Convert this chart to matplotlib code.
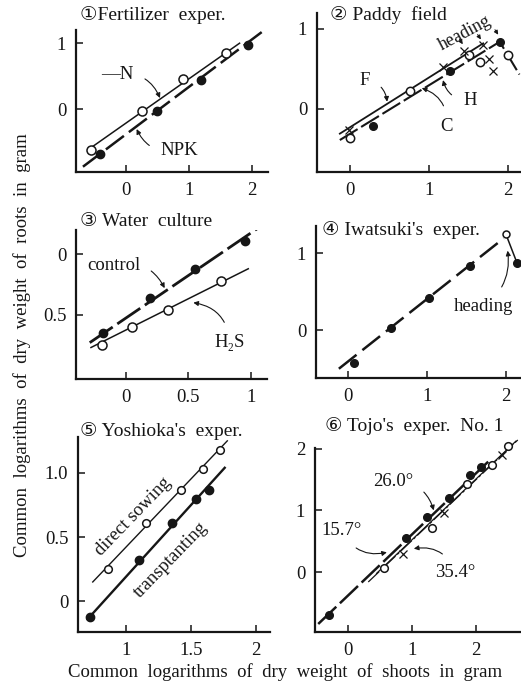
import numpy as np
import matplotlib
matplotlib.use('Agg')
import matplotlib.pyplot as plt

# figure size in pixels
W, H = 521, 687

# (1) Fertilizer exper.
p1_n_x = [-0.56, 0.26, 0.90, 1.59]
p1_n_y = [-0.62, -0.03, 0.46, 0.85]
p1_npk_x = [-0.41, 0.49, 1.19, 1.94]
p1_npk_y = [-0.67, -0.02, 0.44, 0.98]
p1_n_line = ([-0.52, 1.80], [-0.56, 1.00])
p1_npk_line = ([-0.68, 2.25], [-0.87, 1.24])

# (2) Paddy field
p2_open_x = [0.0, 0.76, 1.51, 1.65, 2.0]
p2_open_y = [-0.37, 0.22, 0.68, 0.59, 0.67]
p2_fill_x = [0.29, 1.27, 1.90]
p2_fill_y = [-0.21, 0.47, 0.84]
p2_cross_x = [-0.01, 1.18, 1.44, 1.69, 1.76, 1.82]
p2_cross_y = [-0.27, 0.53, 0.73, 0.80, 0.62, 0.47]
p2_f_line = ([-0.13, 1.69], [-0.31, 0.82])
p2_c_line = ([-0.13, 1.90, 2.15], [-0.39, 0.84, 0.43])

# (3) Water culture
p3_ctrl_x = [-0.18, 0.19, 0.55, 0.95]
p3_ctrl_y = [-0.65, -0.36, -0.12, 0.11]
p3_h2s_x = [-0.19, 0.05, 0.34, 0.76]
p3_h2s_y = [-0.75, -0.60, -0.46, -0.22]
p3_ctrl_line = ([-0.29, 1.05], [-0.73, 0.21])
p3_h2s_line = ([-0.28, 0.98], [-0.77, -0.12])

# (4) Iwatsuki's exper.
p4_x = [0.07, 0.54, 1.02, 1.54]
p4_y = [-0.42, 0.03, 0.42, 0.83]
p4_head_x = [2.0, 2.14]
p4_head_y = [1.24, 0.87]
p4_line = ([-0.12, 1.97], [-0.50, 1.19])

# (5) Yoshioka's exper.
p5_direct_x = [0.86, 1.155, 1.425, 1.59, 1.72]
p5_direct_y = [0.25, 0.61, 0.87, 1.03, 1.18]
p5_trans_x = [0.716, 1.095, 1.356, 1.536, 1.64]
p5_trans_y = [-0.12, 0.32, 0.61, 0.80, 0.87]
p5_direct_line = ([0.74, 1.78], [0.15, 1.25])
p5_trans_line = ([0.70, 1.76], [-0.14, 1.04])

# (6) Tojo's exper. No. 1
p6_fill_x = [-0.29, 0.91, 1.24, 1.58, 1.91, 2.08]
p6_fill_y = [-0.69, 0.56, 0.89, 1.20, 1.58, 1.71]
p6_open_x = [0.56, 1.32, 1.86, 2.25, 2.50]
p6_open_y = [0.07, 0.72, 1.43, 1.73, 2.05]
p6_cross_x = [0.86, 1.50, 2.40]
p6_cross_y = [0.29, 0.96, 1.89]
p6_line_157 = ([-0.46, 2.20], [-0.84, 1.80])
p6_line_260 = ([0.45, 2.62], [-0.02, 2.12])
p6_line_354 = ([0.32, 2.65], [-0.16, 2.14])

plt.rcParams['font.family'] = ['Liberation Serif', 'DejaVu Sans']
plt.rcParams['font.size'] = 12
INK = '#161616'


def add_panel(fig, box, xlim, ylim, xticks, yticks, xlabels=None, ylabels=None):
    l, r, t, b = box
    ax = fig.add_axes([l / W, 1 - b / H, (r - l) / W, (b - t) / H])
    ax.patch.set_alpha(0)
    for s in ['top', 'right']:
        ax.spines[s].set_visible(False)
    for s in ['left', 'bottom']:
        ax.spines[s].set_linewidth(1.6)
        ax.spines[s].set_color(INK)
    ax.set_xlim(xlim)
    ax.set_ylim(ylim)
    ax.set_xticks(xticks)
    ax.set_yticks(yticks)
    if xlabels:
        ax.set_xticklabels(xlabels)
    if ylabels:
        ax.set_yticklabels(ylabels)
    ax.tick_params(direction='in', length=5, width=1.1, labelsize=13.5, pad=7, colors=INK)
    return ax


def open_pts(ax, x, y, ms=6.5):
    ax.plot(x, y, 'o', ms=ms, mfc='white', mec=INK, mew=1.1, ls='none', zorder=4, clip_on=False)


def fill_pts(ax, x, y, ms=6):
    ax.plot(x, y, 'o', ms=ms, color=INK, ls='none', zorder=4, clip_on=False)


def cross_pts(ax, x, y, ms=6.5):
    ax.plot(x, y, 'x', ms=ms, color=INK, mew=0.9, ls='none', zorder=4, clip_on=False)


def note(ax, text, xy, xytext, rad=0.4, **kw):
    ax.annotate(text, xy=xy, xytext=xytext, fontsize=13.5, color=INK, ha='center', va='center',
                arrowprops=dict(arrowstyle='-|>', color=INK, lw=0.8, mutation_scale=7,
                                shrinkA=7, shrinkB=0, connectionstyle=f'arc3,rad={rad}'), **kw)


fig = plt.figure(figsize=(W / 100, H / 100), dpi=100)

# panel 1
ax1 = add_panel(fig, (76, 268, 30, 172), (-0.79, 2.25), (-0.95, 1.2), [0, 1, 2], [0, 1])
ax1.plot(*p1_n_line, color=INK, lw=1.1)
ax1.plot(*p1_npk_line, color=INK, lw=1.8, dashes=(9, 2.5))
open_pts(ax1, p1_n_x, p1_n_y)
fill_pts(ax1, p1_npk_x, p1_npk_y)
note(ax1, '—N', (0.54, 0.17), (-0.14, 0.52), rad=-0.4)
note(ax1, 'NPK', (0.17, -0.30), (0.85, -0.62), rad=-0.4)

# panel 2
ax2 = add_panel(fig, (317, 521, 13, 172), (-0.42, 2.17), (-0.79, 1.2), [0, 1, 2], [0, 1])
ax2.plot(*p2_f_line, color=INK, lw=1.3, clip_on=False)
ax2.plot(*p2_c_line, color=INK, lw=1.5, dashes=(10, 2), clip_on=False)
open_pts(ax2, p2_open_x, p2_open_y, ms=6)
fill_pts(ax2, p2_fill_x, p2_fill_y, ms=5.5)
cross_pts(ax2, p2_cross_x, p2_cross_y, ms=6)
note(ax2, 'F', (0.47, 0.09), (0.19, 0.36), rad=-0.4)
note(ax2, 'H', (1.18, 0.36), (1.52, 0.11), rad=-0.4)
note(ax2, 'C', (0.91, 0.26), (1.22, -0.22), rad=0.4)
ax2.text(1.46, 0.95, 'heading', rotation=28, fontsize=13, ha='center', va='center', color=INK)
for hx, hy in [(1.45, 0.78), (1.68, 0.84), (1.9, 0.9)]:
    ax2.annotate('', xy=(hx, hy), xytext=(hx - 0.08, hy + 0.12),
                 arrowprops=dict(arrowstyle='-|>', color=INK, lw=0.7, mutation_scale=6))

# panel 3
ax3 = add_panel(fig, (76, 267, 230, 379), (-0.4, 1.13), (-1.03, 0.2), [0, 0.5, 1], [-0.5, 0],
                xlabels=['0', '0.5', '1'], ylabels=['0.5', '0'])
ax3.plot(*p3_ctrl_line, color=INK, lw=2.0, dashes=(10, 2))
ax3.plot(*p3_h2s_line, color=INK, lw=1.1)
fill_pts(ax3, p3_ctrl_x, p3_ctrl_y)
open_pts(ax3, p3_h2s_x, p3_h2s_y)
note(ax3, 'control', (0.31, -0.28), (-0.1, -0.09), rad=-0.4)
note(ax3, 'H₂S', (0.54, -0.40), (0.83, -0.73), rad=0.4)

# panel 4
ax4 = add_panel(fig, (316, 521, 226, 378), (-0.41, 2.19), (-0.62, 1.35), [0, 1, 2], [0, 1])
ax4.plot(*p4_line, color=INK, lw=1.8, dashes=(9, 3))
ax4.plot(p4_head_x, p4_head_y, color=INK, lw=1.1, clip_on=False)
fill_pts(ax4, p4_x, p4_y, ms=5.5)
open_pts(ax4, p4_head_x[:1], p4_head_y[:1], ms=5)
fill_pts(ax4, p4_head_x[1:], p4_head_y[1:], ms=5.5)
note(ax4, 'heading', (2.02, 1.03), (1.72, 0.31), rad=0.3)

# panel 5
ax5 = add_panel(fig, (78, 270, 437, 632), (0.626, 2.11), (-0.24, 1.28), [1, 1.5, 2], [0, 0.5, 1.0],
                xlabels=['1', '1.5', '2'], ylabels=['0', '0.5', '1.0'])
ax5.plot(*p5_direct_line, color=INK, lw=1.0, clip_on=False)
ax5.plot(*p5_trans_line, color=INK, lw=1.7)
open_pts(ax5, p5_direct_x, p5_direct_y, ms=5.5)
fill_pts(ax5, p5_trans_x, p5_trans_y, ms=6)
ax5.text(1.05, 0.66, 'direct sowing', rotation=46, fontsize=13.5, ha='center', va='center', color=INK)
ax5.text(1.34, 0.32, 'transptanting', rotation=46, fontsize=13.5, ha='center', va='center', color=INK)

# panel 6
ax6 = add_panel(fig, (315, 521, 448, 632), (-0.51, 2.7), (-0.97, 2.01), [0, 1, 2], [0, 1, 2])
ax6.plot(*p6_line_157, color=INK, lw=1.8, dashes=(10, 2))
ax6.plot(*p6_line_260, color=INK, lw=0.9, clip_on=False)
ax6.plot(*p6_line_354, color=INK, lw=0.9, dashes=(12, 2, 2, 2), clip_on=False)
fill_pts(ax6, p6_fill_x, p6_fill_y, ms=5.5)
open_pts(ax6, p6_open_x, p6_open_y, ms=5.5)
cross_pts(ax6, p6_cross_x, p6_cross_y, ms=6)
note(ax6, '26.0°', (1.34, 1.0), (0.71, 1.46), rad=-0.4)
note(ax6, '15.7°', (0.61, 0.32), (-0.09, 0.68), rad=0.4)
note(ax6, '35.4°', (1.03, 0.38), (1.68, 0.0), rad=0.4)

# panel titles
titles = ['①Fertilizer  exper.', '② Paddy  field', '③ Water  culture',
          "④ Iwatsuki's  exper.", "⑤ Yoshioka's  exper.", "⑥ Tojo's  exper.  No. 1"]
title_pos = [(80, 15), (330, 15), (80, 221), (322, 230), (80, 431), (325, 426)]
for t, (tx, ty) in zip(titles, title_pos):
    fig.text(tx / W, 1 - ty / H, t, fontsize=14, ha='left', va='center', color=INK)

fig.text(22 / W, 1 - 345 / H, 'Common  logarithms  of  dry  weight  of  roots  in  gram',
         rotation=90, ha='center', va='center', fontsize=13.5, color=INK)
fig.text(285 / W, 1 - 672 / H, 'Common  logarithms  of  dry  weight  of  shoots  in  gram',
         ha='center', va='center', fontsize=13.5, color=INK)

fig.savefig('out.png', dpi=100, facecolor='white')
